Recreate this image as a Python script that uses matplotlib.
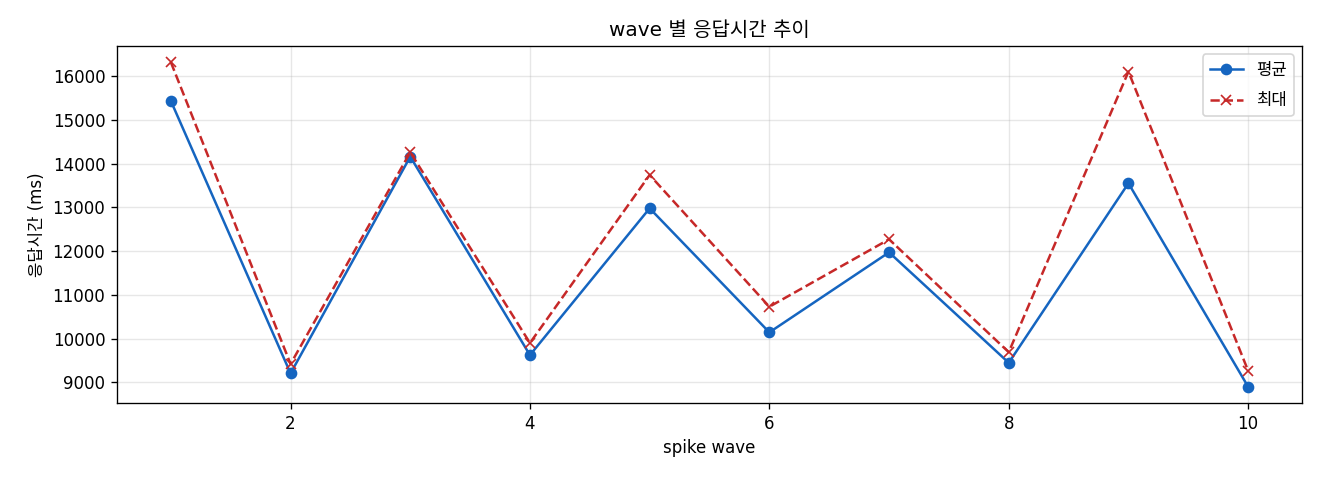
import matplotlib
matplotlib.use("Agg")
import matplotlib.pyplot as plt

plt.rcParams['font.family'] = ['DejaVu Sans', 'Noto Sans CJK KR']
plt.rcParams['axes.unicode_minus'] = False

waves = [1, 2, 3, 4, 5, 6, 7, 8, 9, 10]
mean_ms = [15430, 9206, 14157, 9624, 12977, 10143, 11971, 9448, 13549, 8900]
max_ms = [16314, 9420, 14257, 9900, 13738, 10728, 12269, 9690, 16099, 9265]

fig = plt.figure(figsize=(11, 4), dpi=120)
ax = fig.add_axes([117/1320, 1 - 403/480, (1302-117)/1320, (403-46)/480])
ax.plot(waves, mean_ms, marker='o', color='#1565C0', label='평균', linewidth=1.5, markersize=6)
ax.plot(waves, max_ms, marker='x', linestyle='--', color='#C62828', label='최대', linewidth=1.5, markersize=6)
ax.set_title('wave 별 응답시간 추이', fontsize=12)
ax.set_xlabel('spike wave', fontsize=10)
ax.set_ylabel('응답시간 (ms)', fontsize=10)
ax.grid(True, alpha=0.3)
ax.legend(loc='upper right', fontsize=10, labelspacing=0.75)
fig.savefig('out.png', dpi=120)
